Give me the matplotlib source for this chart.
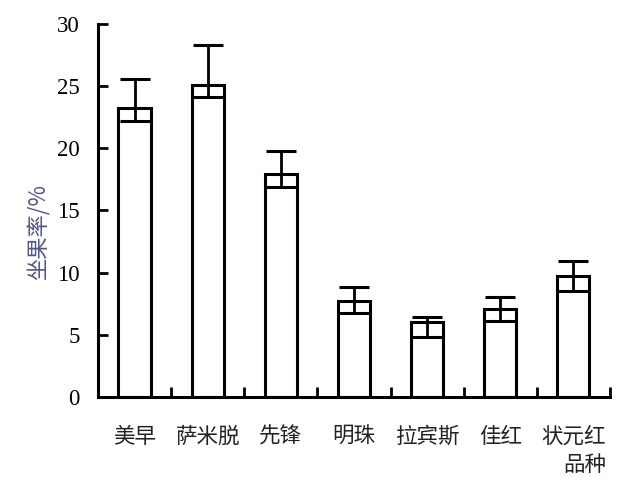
import matplotlib
matplotlib.use("Agg")
import matplotlib.pyplot as plt
import numpy as np

# 品种及坐果率
varieties = ['美早', '萨米脱', '先锋', '明珠', '拉宾斯', '佳红', '状元红']
fruit_set = [23.2, 25.1, 17.9, 7.7, 6.0, 7.1, 9.7]
err_up = [2.4, 3.2, 1.9, 1.15, 0.45, 0.95, 1.2]
err_down = [1.0, 1.0, 1.0, 0.95, 1.2, 1.0, 1.15]

plt.rcParams['font.family'] = ['Liberation Serif', 'Noto Sans CJK SC']

fig = plt.figure(figsize=(6.36, 4.84), dpi=100)
ax = fig.add_axes([0.154, 0.18, 0.805, 0.7705])

x = np.arange(len(varieties))
ax.bar(x, fruit_set, width=0.44, color='white', edgecolor='black', linewidth=2.2, zorder=2)
ax.errorbar(x, fruit_set, yerr=[err_down, err_up], fmt='none', ecolor='black',
            elinewidth=2.0, capsize=11, capthick=2.2, zorder=3)

ax.set_xlim(-0.5, len(varieties) - 0.5)
ax.set_ylim(0, 30)
ax.set_yticks(range(0, 31, 5))
ax.tick_params(axis='y', direction='in', length=7, width=2, labelsize=16.5, pad=13)
ax.set_xticks(np.arange(-0.5, len(varieties), 1.0))
ax.set_xticklabels([])
ax.tick_params(axis='x', direction='in', length=7, width=2)
for i, name in enumerate(varieties):
    ax.text(i, -3.2, name, ha='center', va='center', fontsize=15.5,
            family='Noto Sans CJK SC', color='#222222')
ax.text(6.16, -5.45, '品种', ha='center', va='center', fontsize=15.5,
        family='Noto Sans CJK SC', color='#222222')

ax.spines['top'].set_visible(False)
ax.spines['right'].set_visible(False)
ax.spines['left'].set_linewidth(2.2)
ax.spines['bottom'].set_linewidth(2.2)

fig.text(0.062, 0.52, '坐果率/%', rotation=90, ha='center', va='center', fontsize=16,
         family='Noto Sans CJK SC', color='#55558a')

fig.savefig('out.png', dpi=100)
